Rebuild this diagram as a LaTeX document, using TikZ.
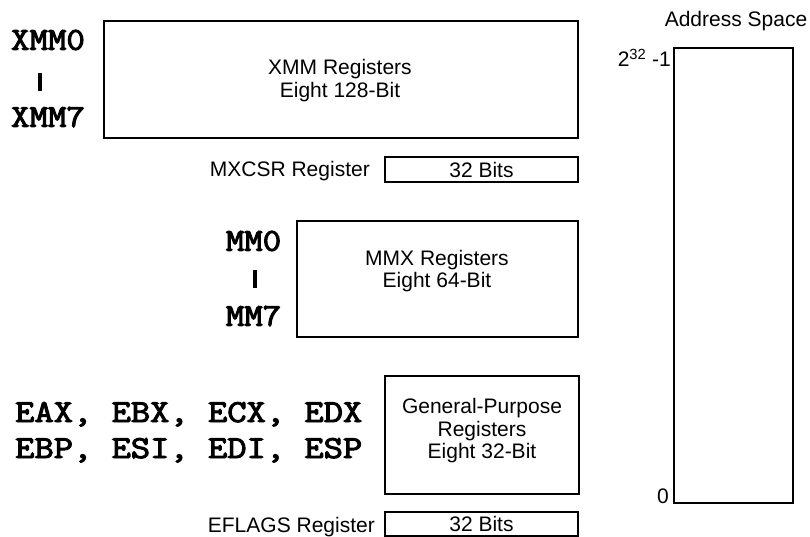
\documentclass[tikz,border=0pt]{standalone}
\usepackage{fontspec}
\setmainfont{Liberation Sans}
\newfontfamily\regfont{Latin Modern Mono}[FakeBold=3]
\begin{document}
\begin{tikzpicture}[x=1pt,y=-1pt,
  box/.style={draw, line width=1.1pt, inner sep=0pt, outer sep=0pt, anchor=north west},
  lbl/.style={font=\fontsize{21}{22.5}\selectfont, align=center, inner sep=0pt},
  reg/.style={font=\fontsize{32}{36}\selectfont\regfont, inner sep=0pt},
  bar/.style={inner sep=0pt}]
\useasboundingbox (0,0) rectangle (810,537);
% boxes
\node[box, minimum width=474pt, minimum height=117pt] (xmm) at (104,21) {};
\node[box, minimum width=193pt, minimum height=25pt] (mxcsr) at (385,157) {};
\node[box, minimum width=281pt, minimum height=116pt] (mmx) at (297,221) {};
\node[box, minimum width=194pt, minimum height=118pt] (gp) at (385,376) {};
\node[box, minimum width=193pt, minimum height=24pt] (eflags) at (385,512) {};
\node[box, minimum width=119pt, minimum height=455pt] (addr) at (674,48) {};
% box texts
\node[lbl] (xmmt) at (340,80.5) {XMM Registers\\Eight 128-Bit};
\node[lbl] (mxcsrt) at (mxcsr.center) {32 Bits};
\node[lbl] (mmxt) at (437,271) {MMX Registers\\Eight 64-Bit};
\node[lbl] (gpt) at (482,431) {General-Purpose\\Registers\\Eight 32-Bit};
\node[lbl] (eflagst) at (eflags.center) {32 Bits};
% side labels
\node[lbl, anchor=base east] (mxcsrl) at (370,177) {MXCSR Register};
\node[lbl, anchor=base east] (eflagsl) at (375,532) {EFLAGS Register};
\node[lbl, anchor=base] (addrl) at (736,27) {Address Space};
\node[lbl, anchor=base east] (top) at (671,67) {2\textsuperscript{32} -1};
\node[lbl, anchor=base east] (zero) at (669,503) {0};
% register names
\node[reg] (x0) at (48,40) {\scalebox{1.12}[1]{XMM0}};
\node[bar] (xb) at (40,82.5) {\rule{3.5pt}{18pt}};
\node[reg] (x7) at (48,117) {\scalebox{1.12}[1]{XMM7}};
\node[reg] (m0) at (253.5,241) {\scalebox{1.12}[1]{MM0}};
\node[bar] (mb) at (255,279) {\rule{3.5pt}{18pt}};
\node[reg] (m7) at (253.5,316) {\scalebox{1.12}[1]{MM7}};
\node[reg, anchor=base west] (g1) at (15,422) {\scalebox{1.17}[1]{EAX, EBX, ECX, EDX}};
\node[reg, anchor=base west] (g2) at (15,458) {\scalebox{1.17}[1]{EBP, ESI, EDI, ESP}};
\end{tikzpicture}
\end{document}
